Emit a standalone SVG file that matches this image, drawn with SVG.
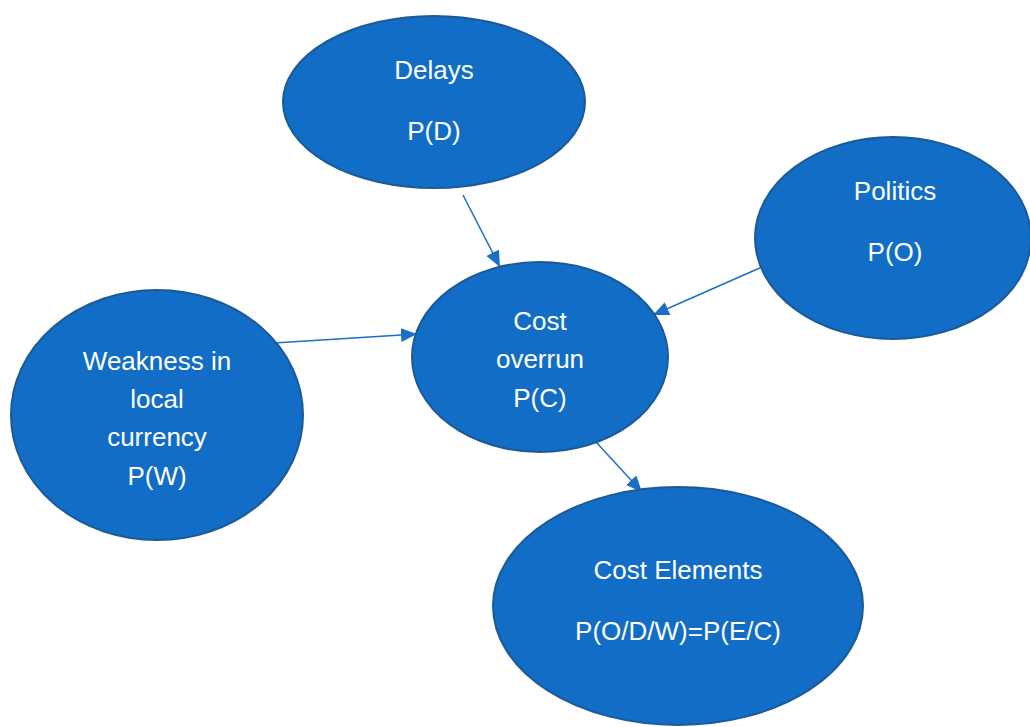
<svg xmlns="http://www.w3.org/2000/svg" width="1030" height="727" viewBox="0 0 1030 727">
  <style>
    .node { fill: #116dc5; stroke: #1c5a97; stroke-width: 2; }
    .label { font-family: "Liberation Sans", Arial, sans-serif; font-size: 26px; fill: #ffffff; text-anchor: middle; }
    .edge { stroke: #1b6fc6; stroke-width: 1.5; fill: none; marker-end: url(#arrow); }
  </style>
  <defs>
    <marker id="arrow" markerUnits="userSpaceOnUse" markerWidth="16" markerHeight="16" viewBox="0 0 16 16" refX="16" refY="8" orient="auto">
      <path d="M0,1 L16,8 L0,15 Z" fill="#1b6fc6"/>
    </marker>
  </defs>

  <rect width="1030" height="727" fill="#ffffff"/>

  <g id="connectors">
    <line class="edge" x1="463" y1="195" x2="500" y2="267"/>
    <line class="edge" x1="762" y1="267" x2="653" y2="315"/>
    <line class="edge" x1="274" y1="343" x2="417" y2="334"/>
    <line class="edge" x1="596" y1="442" x2="642" y2="492"/>
  </g>

  <g id="delays">
    <ellipse class="node" cx="434" cy="102" rx="151" ry="86"/>
    <text class="label" x="434" y="79">Delays</text>
    <text class="label" x="434" y="140">P(D)</text>
  </g>

  <g id="politics">
    <ellipse class="node" cx="893" cy="238" rx="138" ry="101"/>
    <text class="label" x="895" y="200">Politics</text>
    <text class="label" x="895" y="261">P(O)</text>
  </g>

  <g id="cost-overrun">
    <ellipse class="node" cx="540" cy="357" rx="128" ry="95"/>
    <text class="label" x="540" y="330">Cost</text>
    <text class="label" x="540" y="368">overrun</text>
    <text class="label" x="540" y="407">P(C)</text>
  </g>

  <g id="weakness">
    <ellipse class="node" cx="157" cy="415" rx="146" ry="125"/>
    <text class="label" x="157" y="370">Weakness in</text>
    <text class="label" x="157" y="408">local</text>
    <text class="label" x="157" y="446">currency</text>
    <text class="label" x="157" y="485">P(W)</text>
  </g>

  <g id="cost-elements">
    <ellipse class="node" cx="678" cy="606" rx="185" ry="119"/>
    <text class="label" x="678" y="579">Cost Elements</text>
    <text class="label" x="678" y="640">P(O/D/W)=P(E/C)</text>
  </g>
</svg>
